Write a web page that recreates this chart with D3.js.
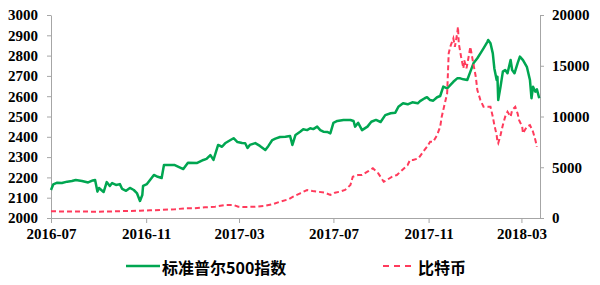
<!DOCTYPE html>
<html><head><meta charset="utf-8">
<script src="https://cdn.jsdelivr.net/npm/d3@7"></script>
<style>html,body{margin:0;padding:0;background:#fff}</style>
</head><body>
<svg id="chart" width="600" height="285"></svg>
<script>
// ---- data ----
const seriesNames = ["标准普尔500指数", "比特币"];
const xTickLabels = ["2016-07", "2016-11", "2017-03", "2017-07", "2017-11", "2018-03"];
const leftTicks = [2000, 2100, 2200, 2300, 2400, 2500, 2600, 2700, 2800, 2900, 3000];
const rightTicks = [0, 5000, 10000, 15000, 20000];

const spxDates = ["2016-07-01","2016-07-04","2016-07-09","2016-07-15","2016-07-22","2016-07-28","2016-08-02","2016-08-10","2016-08-18","2016-08-24","2016-08-27","2016-08-30","2016-09-01","2016-09-04","2016-09-07","2016-09-11","2016-09-15","2016-09-18","2016-09-23","2016-09-28","2016-10-01","2016-10-06","2016-10-11","2016-10-16","2016-10-20","2016-10-24","2016-10-27","2016-10-28","2016-11-02","2016-11-06","2016-11-11","2016-11-16","2016-11-21","2016-11-24","2016-12-02","2016-12-08","2016-12-19","2016-12-25","2017-01-06","2017-01-14","2017-01-18","2017-01-23","2017-01-27","2017-02-02","2017-02-07","2017-02-11","2017-02-18","2017-02-22","2017-02-27","2017-03-05","2017-03-09","2017-03-12","2017-03-15","2017-03-22","2017-03-28","2017-04-04","2017-04-08","2017-04-13","2017-04-17","2017-04-23","2017-04-30","2017-05-06","2017-05-09","2017-05-13","2017-05-19","2017-05-23","2017-05-28","2017-06-01","2017-06-05","2017-06-10","2017-06-14","2017-06-18","2017-06-23","2017-06-27","2017-07-01","2017-07-06","2017-07-14","2017-07-23","2017-07-27","2017-07-29","2017-08-02","2017-08-07","2017-08-14","2017-08-19","2017-08-25","2017-08-31","2017-09-06","2017-09-13","2017-09-19","2017-09-23","2017-09-29","2017-10-05","2017-10-11","2017-10-18","2017-10-21","2017-10-27","2017-10-30","2017-11-03","2017-11-07","2017-11-12","2017-11-16","2017-11-20","2017-11-25","2017-11-29","2017-12-03","2017-12-08","2017-12-12","2017-12-16","2017-12-21","2017-12-25","2017-12-29","2018-01-03","2018-01-07","2018-01-11","2018-01-16","2018-01-17","2018-01-20","2018-01-23","2018-01-25","2018-01-28","2018-01-29","2018-01-30","2018-02-02","2018-02-05","2018-02-08","2018-02-11","2018-02-15","2018-02-17","2018-02-20","2018-02-24","2018-02-27","2018-03-03","2018-03-08","2018-03-12","2018-03-14","2018-03-16","2018-03-19","2018-03-21","2018-03-24"];
const spxValues = [2138,2166,2174,2172,2179,2182,2187,2182,2175,2185,2187,2130,2148,2138,2128,2177,2158,2172,2163,2167,2143,2134,2148,2138,2123,2084,2113,2158,2167,2187,2212,2203,2197,2261,2261,2261,2241,2272,2271,2286,2291,2310,2286,2360,2351,2368,2384,2393,2374,2369,2368,2345,2360,2369,2355,2335,2355,2384,2391,2399,2400,2404,2360,2409,2425,2437,2433,2442,2438,2450,2433,2425,2424,2417,2469,2478,2483,2483,2478,2450,2469,2433,2450,2474,2483,2473,2507,2516,2519,2548,2565,2560,2570,2565,2576,2590,2595,2581,2578,2595,2601,2647,2639,2655,2671,2688,2688,2683,2680,2721,2762,2787,2811,2836,2868,2877,2861,2811,2737,2680,2696,2581,2647,2721,2729,2713,2778,2729,2713,2762,2795,2778,2745,2680,2590,2647,2622,2634,2590];

const btcDates = ["2016-07-01","2016-07-19","2016-08-08","2016-08-27","2016-09-15","2016-10-05","2016-10-24","2016-11-06","2016-11-19","2016-12-08","2016-12-21","2017-01-03","2017-01-16","2017-01-29","2017-02-11","2017-02-22","2017-02-28","2017-03-09","2017-03-22","2017-04-04","2017-04-13","2017-04-23","2017-05-04","2017-05-10","2017-05-19","2017-05-28","2017-06-04","2017-06-11","2017-06-20","2017-06-27","2017-07-03","2017-07-09","2017-07-16","2017-07-23","2017-07-26","2017-08-02","2017-08-07","2017-08-14","2017-08-21","2017-08-28","2017-09-04","2017-09-08","2017-09-15","2017-09-21","2017-09-28","2017-10-05","2017-10-08","2017-10-12","2017-10-19","2017-10-25","2017-10-30","2017-11-03","2017-11-07","2017-11-12","2017-11-16","2017-11-18","2017-11-22","2017-11-25","2017-11-26","2017-11-27","2017-11-29","2017-12-03","2017-12-05","2017-12-08","2017-12-09","2017-12-10","2017-12-13","2017-12-16","2017-12-17","2017-12-20","2017-12-22","2017-12-25","2017-12-28","2018-01-01","2018-01-03","2018-01-07","2018-01-11","2018-01-16","2018-01-20","2018-01-23","2018-01-25","2018-01-28","2018-01-29","2018-01-30","2018-02-02","2018-02-04","2018-02-05","2018-02-08","2018-02-11","2018-02-15","2018-02-17","2018-02-21","2018-02-24","2018-02-26","2018-03-02","2018-03-03","2018-03-08","2018-03-12","2018-03-16","2018-03-19","2018-03-21"];
const btcValues = [660,640,640,620,640,690,720,760,790,860,955,955,1055,1110,1280,1280,1110,1085,1110,1210,1350,1605,1840,2100,2430,2760,2660,2590,2490,2265,2490,2590,2760,3250,4070,4235,4235,4560,4895,4400,3575,3745,4070,4235,4730,5220,5715,5715,5880,6530,7020,7515,7515,8175,8990,9980,11300,12280,14250,16220,16870,17700,16870,18190,18840,17210,15890,14745,15560,14745,15560,16870,15560,13920,12610,11620,10960,10960,10960,9980,9160,8175,7515,7360,8175,8835,9160,9980,10470,9980,10640,10960,10310,9650,8990,8340,8990,9160,8500,7680,7020];

// ---- chart ----
const parse = d3.timeParse("%Y-%m-%d");
const svg = d3.select("#chart");
const green = "#00A651", red = "#FF3B5C", axisColor = "#a6a6a6";
const tickFont = "'Liberation Serif', 'Times New Roman', serif";
const cjkFont = "'Noto Sans CJK SC', sans-serif";

const x = d3.scaleTime().domain([parse("2016-07-01"), parse("2018-03-25")]).range([51, 540]);
const yL = d3.scaleLinear().domain([2000, 3000]).range([218, 15]);
const yR = d3.scaleLinear().domain([0, 20000]).range([218, 15]);

function styleAxis(g) {
  g.selectAll("path.domain").attr("stroke", axisColor).attr("stroke-width", 1);
  g.selectAll(".tick line").attr("stroke", axisColor);
  g.selectAll(".tick text").attr("fill", "#000").style("font-family", tickFont)
    .style("font-weight", "bold").style("font-size", "15px");
}

svg.append("g").attr("transform", "translate(51,0)")
  .call(d3.axisLeft(yL).tickValues(leftTicks).tickSize(4).tickSizeOuter(0).tickPadding(9).tickFormat(d3.format("d")))
  .call(styleAxis);
svg.append("g").attr("transform", "translate(540,0)")
  .call(d3.axisRight(yR).tickValues(rightTicks).tickSize(4).tickSizeOuter(0).tickPadding(8).tickFormat(d3.format("d")))
  .call(styleAxis);
svg.append("g").attr("transform", "translate(0,218)")
  .call(d3.axisBottom(x).tickValues(xTickLabels.map(s => parse(s + "-01"))).tickSize(5).tickSizeOuter(0).tickPadding(5)
    .tickFormat(d3.timeFormat("%Y-%m")))
  .call(styleAxis);

const spx = spxDates.map((d, i) => ({ date: parse(d), v: spxValues[i] }));
const btc = btcDates.map((d, i) => ({ date: parse(d), v: btcValues[i] }));

svg.append("path").datum(spx)
  .attr("fill", "none").attr("stroke", green).attr("stroke-width", 2.5).attr("stroke-linejoin", "round")
  .attr("d", d3.line().x(d => x(d.date)).y(d => yL(d.v)));
svg.append("path").datum(btc)
  .attr("fill", "none").attr("stroke", red).attr("stroke-width", 2).attr("stroke-dasharray", "5,3")
  .attr("d", d3.line().x(d => x(d.date)).y(d => yR(d.v)));

// ---- legend ----
const lg = svg.append("g");
lg.append("line").attr("x1", 126).attr("x2", 160).attr("y1", 266).attr("y2", 266)
  .attr("stroke", green).attr("stroke-width", 2.5);
lg.append("text").attr("x", 162).attr("y", 266.5).attr("dominant-baseline", "central")
  .style("font-family", cjkFont).style("font-size", "16px").style("font-weight", "bold").text(seriesNames[0]);
lg.append("line").attr("x1", 383).attr("x2", 415).attr("y1", 266).attr("y2", 266)
  .attr("stroke", red).attr("stroke-width", 2).attr("stroke-dasharray", "6,5");
lg.append("text").attr("x", 418).attr("y", 266.5).attr("dominant-baseline", "central")
  .style("font-family", cjkFont).style("font-size", "16px").style("font-weight", "bold").text(seriesNames[1]);
</script>
</body></html>
